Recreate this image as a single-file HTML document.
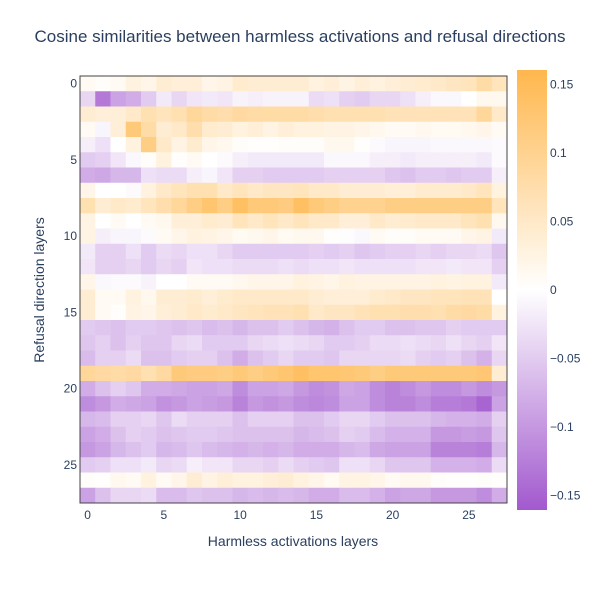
<!DOCTYPE html>
<html><head><meta charset="utf-8"><style>
body{margin:0;background:#fff;font-family:"Liberation Sans",sans-serif}
svg text{font-family:"Liberation Sans",sans-serif;fill:#2a3f5f}
</style></head><body>
<svg id="c" width="600" height="600" xmlns="http://www.w3.org/2000/svg">
<defs><linearGradient id="cg" x1="0" y1="1" x2="0" y2="0">
<stop offset="0" stop-color="rgb(162,89,206)"/><stop offset="0.5" stop-color="#ffffff"/><stop offset="1" stop-color="rgb(255,183,77)"/></linearGradient></defs>
<text x="300" y="42" text-anchor="middle" font-size="17">Cosine similarities between harmless activations and refusal directions</text>
<g id="cells"></g>
<rect x="80" y="76" width="427" height="427" fill="none" stroke="#444" stroke-width="1"/>
<g id="xt"></g>
<g id="yt"></g>
<text x="293" y="546" text-anchor="middle" font-size="14">Harmless activations layers</text>
<text transform="translate(44,290) rotate(-90)" text-anchor="middle" font-size="14">Refusal direction layers</text>
<rect x="517" y="70" width="30" height="440" fill="url(#cg)"/>
<g id="cb"></g>
</svg>
<script>
const xTicks=[0,5,10,15,20,25];
const yTicks=[0,5,10,15,20,25];
const cbTicks=[0.15,0.1,0.05,0,-0.05,-0.1,-0.15];
const cbLabels=["0.15","0.1","0.05","0","\u22120.05","\u22120.1","\u22120.15"];
const zRows=[
[.01,.005,.01,.03,.02,.04,.035,.035,.02,.025,.045,.04,.04,.04,.04,.03,.035,.025,.035,.03,.035,.04,.045,.05,.055,.06,.08,.06],
[-.04,-.13,-.09,-.08,-.05,-.02,-.04,-.025,-.02,-.025,-.012,-.015,-.012,-.012,-.012,-.035,-.03,-.045,-.05,-.04,-.04,-.03,-.015,-.008,-.008,0,.015,.015],
[.04,.035,.035,.05,.07,.06,.07,.09,.08,.075,.085,.08,.08,.08,.08,.075,.07,.07,.07,.07,.065,.065,.065,.065,.065,.065,.09,.05],
[.01,-.01,.035,.12,.08,.04,.05,.075,.045,.04,.03,.035,.025,.035,.03,.03,.025,.025,.02,.015,.01,.01,.015,.012,.012,.015,.02,.01],
[-.015,-.03,0,.03,.11,.05,.025,.045,.02,.015,.005,.003,.003,.005,.005,.005,.015,.015,.002,-.005,-.01,-.01,-.01,-.008,-.008,-.008,-.008,-.005],
[-.05,-.045,-.025,-.008,.005,.03,.002,.01,0,-.005,-.015,-.02,-.02,-.02,-.02,-.02,-.008,-.008,-.008,-.015,-.015,-.02,-.015,-.015,-.015,-.015,-.02,-.005],
[-.08,-.085,-.07,-.07,-.03,-.035,-.035,-.015,-.01,-.025,-.045,-.045,-.05,-.05,-.05,-.05,-.045,-.045,-.045,-.045,-.055,-.06,-.05,-.05,-.055,-.05,-.05,-.015],
[.02,0,0,-.005,.03,.05,.06,.07,.07,.05,.06,.05,.055,.055,.06,.05,.05,.04,.04,.04,.035,.035,.045,.045,.045,.05,.06,.03],
[.07,.04,.05,.045,.06,.075,.09,.11,.13,.11,.14,.12,.12,.115,.14,.12,.11,.1,.1,.1,.11,.11,.11,.11,.11,.11,.11,.06],
[.025,0,.01,0,.01,.015,.035,.035,.045,.04,.06,.05,.06,.05,.06,.05,.05,.035,.035,.05,.04,.045,.05,.05,.05,.06,.07,.015],
[.025,-.015,-.01,-.01,-.005,.01,.02,.03,.025,.02,.012,.015,.02,.012,.015,.015,.002,-.002,-.008,.01,.005,.005,.01,.01,.01,.02,.025,-.02],
[-.02,-.045,-.045,-.03,-.05,-.035,-.04,-.03,-.03,-.04,-.05,-.05,-.05,-.05,-.05,-.045,-.05,-.045,-.055,-.05,-.045,-.045,-.04,-.045,-.04,-.04,-.035,-.055],
[-.025,-.045,-.045,-.04,-.05,-.04,-.045,-.025,-.03,-.03,-.035,-.035,-.035,-.03,-.035,-.03,-.03,-.025,-.03,-.03,-.03,-.03,-.025,-.025,-.02,-.025,-.025,-.045],
[.02,-.008,-.005,-.005,-.012,0,0,.01,.01,.01,.015,.02,.02,.02,.03,.025,.02,.03,.025,.025,.025,.025,.025,.03,.025,.03,.03,-.02],
[.04,.01,.01,.03,.015,.04,.04,.045,.035,.045,.05,.05,.05,.05,.05,.04,.035,.035,.035,.045,.05,.055,.055,.06,.06,.065,.065,0],
[.04,.01,.002,.025,.02,.035,.04,.05,.045,.05,.055,.06,.065,.065,.07,.05,.055,.055,.065,.07,.07,.075,.075,.07,.08,.085,.08,.03],
[-.05,-.055,-.06,-.05,-.05,-.055,-.06,-.055,-.065,-.06,-.07,-.06,-.06,-.05,-.06,-.07,-.075,-.06,-.05,-.05,-.06,-.06,-.055,-.055,-.045,-.05,-.05,-.05],
[-.055,-.045,-.06,-.045,-.055,-.055,-.04,-.035,-.05,-.05,-.05,-.04,-.035,-.03,-.035,-.04,-.05,-.05,-.045,-.035,-.035,-.03,-.035,-.04,-.03,-.04,-.045,-.025],
[-.065,-.045,-.045,-.035,-.06,-.06,-.05,-.045,-.045,-.06,-.08,-.06,-.05,-.04,-.05,-.05,-.055,-.04,-.04,-.04,-.04,-.035,-.045,-.05,-.045,-.06,-.075,-.04],
[.09,.085,.08,.085,.07,.085,.12,.115,.115,.11,.12,.11,.12,.13,.14,.13,.13,.125,.12,.11,.12,.12,.12,.12,.12,.12,.125,.04],
[-.08,-.06,-.045,-.055,-.08,-.08,-.085,-.09,-.09,-.085,-.11,-.09,-.09,-.085,-.1,-.11,-.105,-.085,-.09,-.11,-.12,-.11,-.1,-.11,-.11,-.1,-.11,-.1],
[-.11,-.1,-.08,-.085,-.09,-.105,-.1,-.09,-.095,-.1,-.12,-.1,-.105,-.1,-.11,-.115,-.11,-.09,-.09,-.11,-.12,-.12,-.11,-.125,-.125,-.13,-.15,-.09],
[-.07,-.065,-.045,-.045,-.04,-.055,-.035,-.045,-.045,-.045,-.06,-.045,-.045,-.045,-.06,-.06,-.05,-.04,-.04,-.05,-.06,-.06,-.06,-.07,-.075,-.075,-.08,-.045],
[-.09,-.08,-.06,-.045,-.05,-.06,-.055,-.05,-.05,-.055,-.06,-.06,-.06,-.06,-.07,-.065,-.06,-.045,-.05,-.065,-.075,-.075,-.075,-.1,-.1,-.095,-.1,-.055],
[-.1,-.09,-.07,-.06,-.05,-.07,-.065,-.055,-.065,-.07,-.075,-.07,-.075,-.07,-.08,-.08,-.08,-.07,-.065,-.085,-.09,-.09,-.09,-.12,-.12,-.12,-.125,-.07],
[-.05,-.045,-.03,-.03,-.02,-.04,-.035,-.015,-.025,-.025,-.04,-.04,-.045,-.035,-.045,-.05,-.055,-.03,-.03,-.04,-.055,-.055,-.055,-.075,-.075,-.075,-.08,-.035],
[.005,.003,.015,.01,.03,.01,.02,.04,.025,.035,.03,.03,.035,.04,.03,.02,.012,.025,.025,.02,.01,.015,.015,.005,.002,.002,.005,.002],
[-.09,-.06,-.04,-.04,-.035,-.065,-.065,-.055,-.06,-.06,-.07,-.065,-.07,-.065,-.07,-.08,-.08,-.065,-.065,-.075,-.09,-.085,-.085,-.1,-.1,-.1,-.11,-.08]
];
const NS="http://www.w3.org/2000/svg";
const X0=80,Y0=76,W=427,H=427,ZMAX=0.1606;
const nR=zRows.length,nC=zRows[0].length,cw=W/nC,ch=H/nR;
const xs=i=>X0+i*cw, ys=j=>Y0+j*ch;
const cbY=v=>290-v/ZMAX*220;
function col(v){let t=Math.max(-1,Math.min(1,v/ZMAX));let a=[255,255,255],b=t>=0?[255,183,77]:[162,89,206];t=Math.abs(t);
return `rgb(${a.map((x,k)=>Math.round(x+(b[k]-x)*t)).join(",")})`;}
const g=document.getElementById('cells');
zRows.forEach((row,j)=>row.forEach((v,i)=>{const r=document.createElementNS(NS,'rect');
r.setAttribute('x',xs(i));r.setAttribute('y',ys(j));r.setAttribute('width',cw+0.5);r.setAttribute('height',ch+0.5);r.setAttribute('fill',col(v));


g.appendChild(r);}));
function txt(p,x,y,s,anchor){const t=document.createElementNS(NS,'text');t.setAttribute('x',x);t.setAttribute('y',y);t.setAttribute('font-size',12);t.setAttribute('text-anchor',anchor);t.textContent=s;


document.getElementById(p).appendChild(t);}
xTicks.forEach(v=>txt('xt',xs(v)+cw/2,519,v,'middle'));
yTicks.forEach(v=>txt('yt',77,ys(v)+ch/2+4,v,'end'));
cbTicks.forEach((v,k)=>txt('cb',550,cbY(v)+4,cbLabels[k],'start'));
</script>
</body></html>
